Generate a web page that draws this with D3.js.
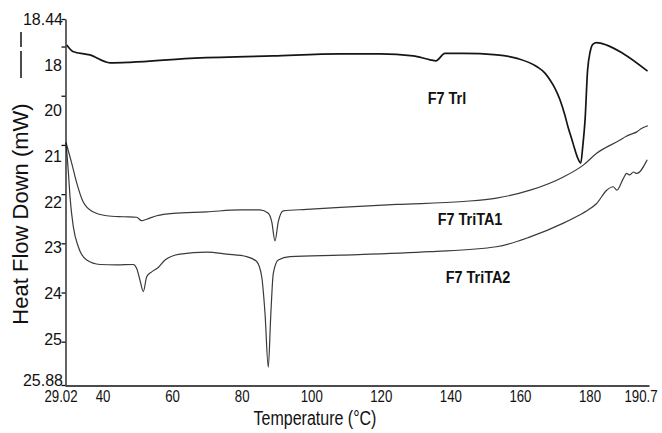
<!DOCTYPE html>
<html><head><meta charset="utf-8">
<script src="https://cdn.jsdelivr.net/npm/d3@7"></script>
<style>body{margin:0;background:#fff}svg text{font-family:"Liberation Sans",Arial,Helvetica,sans-serif;fill:#111}</style>
</head><body><svg id="c" width="662" height="433"></svg>
<script>
// ---- data (temperature °C, heat flow mW) ----
const triT = [29.5,31.2,35.9,41.5,47.0,63.6,86.6,105.2,116.2,125.4,130.1,131.7,134.2,139.2,148.6,154.2,159.7,161.9,163.3,164.6,166.1,167.4,168.3,169.4,170.2,171.0,171.8,172.4,173.0,173.7,174.4,174.8,175.2,176.2,179.0,183.5,190.3];
const triV = [18.97,19.10,19.17,19.33,19.32,19.24,19.19,19.15,19.15,19.19,19.27,19.29,19.14,19.14,19.17,19.24,19.41,19.54,19.68,19.84,20.09,20.39,20.64,20.90,21.10,21.27,21.37,21.00,20.49,19.48,19.11,19.00,18.95,18.92,18.97,19.14,19.50];
const ta1T = [29.3,30.87,32.26,34.0,36.77,40.56,45.08,48.87,50.25,51.64,54.41,58.92,68.25,77.47,83.0,85.3,86.25,87.16,88.07,89.46,95.94,105.2,120.85,139.3,148.5,157.8,167.0,172.5,176.2,182.7,184.3,185.8,187.2,188.5,190.4];
const ta1V = [20.95,21.37,21.77,22.15,22.36,22.44,22.46,22.47,22.54,22.51,22.44,22.39,22.36,22.32,22.32,22.39,22.56,22.95,22.56,22.34,22.31,22.27,22.21,22.15,22.08,21.92,21.65,21.41,21.17,20.90,20.83,20.78,20.74,20.67,20.61];
const ta2T = [29.3,30.0,30.4,31.32,32.7,35.03,38.71,43.33,47.93,48.87,49.78,50.7,51.64,53.02,54.85,56.7,60.86,68.25,73.79,79.32,82.09,83.48,84.39,85.3,85.97,86.69,88.07,91.31,105.2,130.07,148.5,157.8,167.0,171.6,173.5,176.2,179.0,180.8,181.8,183.6,184.5,185.4,186.4,187.3,190.2];
const ta2V = [20.95,21.6,22.05,22.66,23.07,23.34,23.43,23.44,23.43,23.51,23.75,23.98,23.68,23.58,23.49,23.34,23.22,23.18,23.22,23.27,23.37,23.68,24.42,25.52,24.49,23.61,23.34,23.27,23.24,23.17,23.07,22.87,22.59,22.42,22.34,22.19,21.92,21.85,21.92,21.68,21.58,21.61,21.55,21.58,21.30];
const seriesNames = ["F7 Trl","F7 TriTA1","F7 TriTA2"];
const xDomain = [29.02, 190.7];
const yDomain = [18.44, 25.88];
const xTickLabels = ["40","60","80","100","120","140","160","180"];
const yTickLabels = ["18","20","21","22","23","24","25"];
const yTickValues = [19,20,21,22,23,24,25];

// ---- drawing ----
const svg = d3.select("#c");
const x = d3.scaleLinear().domain(xDomain).range([65,649]);
const y = d3.scaleLinear().domain(yDomain).range([19,385]);

const zip = (a,b) => a.map((t,i)=>[t,b[i]]);
const line = d3.line().x(d=>x(d[0])).y(d=>y(d[1])).curve(d3.curveMonotoneX);

const series = [
  {name:seriesNames[0], data:zip(triT,triV), color:"#151515", w:1.7},
  {name:seriesNames[1], data:zip(ta1T,ta1V), color:"#3a3a3a", w:1.2},
  {name:seriesNames[2], data:zip(ta2T,ta2V), color:"#3a3a3a", w:1.2}
];
svg.append("g").selectAll("path").data(series).join("path")
  .attr("d", d=>line(d.data)).attr("fill","none")
  .attr("stroke", d=>d.color).attr("stroke-width", d=>d.w)
  .attr("stroke-linejoin","round");

// axes
svg.append("g").attr("transform","translate(65.5,0)")
  .call(d3.axisLeft(y).tickValues([yDomain[0],...yTickValues,yDomain[1]]).tickSize(4).tickSizeOuter(0).tickFormat(""));
svg.append("g").attr("transform","translate(0,385.5)")
  .call(d3.axisBottom(x).tickValues([]).tickSizeOuter(0));
svg.selectAll(".domain, .tick line").attr("stroke","#111").attr("stroke-width",1.3);

// y tick labels
const yl = d3.scalePoint().domain(yTickLabels).range([65,339]);
svg.append("g").selectAll("text").data(yTickLabels).join("text")
  .attr("x",62).attr("y",d=>yl(d)+5.6).attr("text-anchor","end").attr("font-size",16).text(d=>d);
svg.append("text").attr("x",63).attr("y",y(yDomain[0])+6).attr("text-anchor","end").attr("font-size",16).text(String(yDomain[0]));
svg.append("text").attr("x",63).attr("y",y(yDomain[1])+1).attr("text-anchor","end").attr("font-size",16).text(String(yDomain[1]));

// x tick labels
const xl = d3.scalePoint().domain(xTickLabels).range([103,590]);
svg.append("g").selectAll("text").data(xTickLabels).join("text")
  .attr("transform",d=>`translate(${xl(d)},402) scale(0.78,1)`)
  .attr("text-anchor","middle").attr("font-size",17).text(d=>d);
svg.append("text").attr("transform",`translate(${x(xDomain[0])-4},402) scale(0.78,1)`)
  .attr("text-anchor","middle").attr("font-size",17).text(String(xDomain[0]));
svg.append("text").attr("transform",`translate(${x(xDomain[1])-8},402) scale(0.78,1)`)
  .attr("text-anchor","middle").attr("font-size",17).text(String(xDomain[1]));

// axis titles
svg.append("text").attr("transform","translate(315,425) scale(0.8,1)")
  .attr("text-anchor","middle").attr("font-size",20).text("Temperature (°C)");
svg.append("text").attr("transform","translate(28,214) rotate(-90)")
  .attr("text-anchor","middle").attr("font-size",22).text("Heat Flow Down (mW)");
svg.append("line").attr("x1",21).attr("x2",21).attr("y1",32).attr("y2",47).attr("stroke","#111").attr("stroke-width",1.5);
svg.append("line").attr("x1",21).attr("x2",21).attr("y1",51).attr("y2",78).attr("stroke","#111").attr("stroke-width",1.5);

// series labels
const labelPos = [[447,103.5],[470,225],[478,283]];
svg.append("g").selectAll("text").data(seriesNames).join("text")
  .attr("transform",(d,i)=>`translate(${labelPos[i][0]},${labelPos[i][1]}) scale(0.85,1)`)
  .attr("text-anchor","middle").attr("font-size",17).attr("font-weight","bold").text(d=>d);
</script></body></html>
